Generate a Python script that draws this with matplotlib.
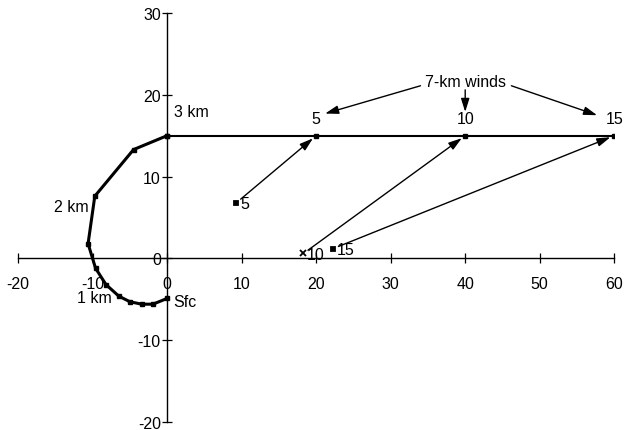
import numpy as np
import matplotlib.pyplot as plt

plt.rcParams['font.family'] = ['Liberation Sans', 'DejaVu Sans']
plt.rcParams['font.size'] = 11.5
plt.rcParams['axes.unicode_minus'] = False

# Hodograph, surface to 3 km (m/s)
hodo_u = [0, -1.9, -3.4, -5.0, -6.5, -8.2, -9.6, -10.6, -9.7, -4.5, 0]
hodo_v = [-4.9, -5.6, -5.6, -5.3, -4.6, -3.2, -1.2, 1.8, 7.6, 13.3, 15]
level_labels = ['Sfc', '1 km', '2 km', '3 km']

# 7-km winds for the three cases
wind7_u = [20, 40, 60]
wind7_v = [15, 15, 15]
case_labels = ['5', '10', '15']

# Storm motions for the three cases
storm_u = [9.3, 18.3, 22.3]
storm_v = [6.8, 0.6, 1.2]
storm_markers = ['s', 'x', 's']

fig = plt.figure(figsize=(6.37, 4.31), dpi=100)
ax = fig.add_axes([0.0283, 0.0186, 0.936, 0.949])

ax.set_xlim(-20, 60)
ax.set_ylim(-20, 30)
for side in ['top', 'right']:
    ax.spines[side].set_visible(False)
ax.spines['left'].set_position(('data', 0))
ax.spines['bottom'].set_position(('data', 0))
ax.spines['left'].set_linewidth(1.0)
ax.spines['bottom'].set_linewidth(1.0)
ax.set_xticks(np.arange(-20, 61, 10))
ax.set_yticks(np.arange(-20, 31, 10))
ax.tick_params(direction='inout', length=7, width=0.9, labelsize=11.5)
ax.tick_params(axis='x', pad=9)
ax.tick_params(axis='y', pad=1)

# hodograph 0-3 km
ax.plot(hodo_u, hodo_v, color='black', lw=2.2, marker='s', ms=3, zorder=3)
# unidirectional segment above 3 km
ax.plot([hodo_u[-1]] + wind7_u, [hodo_v[-1]] + wind7_v, color='black',
        lw=1.5, marker='s', ms=3, zorder=3)

ax.text(hodo_u[0] + 0.8, hodo_v[0] - 0.4, level_labels[0], ha='left', va='center')
ax.text(hodo_u[5] - 1.5, hodo_v[5] - 1.6, level_labels[1], ha='center', va='center')
ax.text(hodo_u[8] - 3.1, hodo_v[8] - 1.3, level_labels[2], ha='center', va='center')
ax.text(hodo_u[10] + 3.2, hodo_v[10] + 2.9, level_labels[3], ha='center', va='center')

for u, v, lab in zip(wind7_u, wind7_v, case_labels):
    ax.text(u, v + 2.1, lab, ha='center', va='center')

# storm motion -> 7-km wind arrows
for su, sv, m, lab, wu, wv in zip(storm_u, storm_v, storm_markers,
                                  case_labels, wind7_u, wind7_v):
    ax.plot(su, sv, marker=m, color='black', ms=3 if m == 's' else 4,
            mew=1.3, linestyle='none', zorder=3)
    ax.text(su + 0.5, sv - 0.1, lab, ha='left', va='center')
    ax.annotate('', xy=(wu, wv), xytext=(su, sv),
                arrowprops=dict(arrowstyle='-|>,head_length=0.7,head_width=0.22',
                                color='black', lw=1.0, shrinkA=4, shrinkB=3))

# 7-km winds callout
ax.text(40, 21.6, '7-km winds', ha='center', va='center')
callout_from = [(34, 21.1), (40, 20.6), (46.2, 21.1)]
callout_to = [(21.2, 17.7), (40, 17.9), (57.7, 17.5)]
for (x0, y0), (x1, y1) in zip(callout_from, callout_to):
    ax.annotate('', xy=(x1, y1), xytext=(x0, y0),
                arrowprops=dict(arrowstyle='-|>,head_length=0.7,head_width=0.22',
                                color='black', lw=1.0, shrinkA=0, shrinkB=0))

fig.savefig('out.png', dpi=100)
